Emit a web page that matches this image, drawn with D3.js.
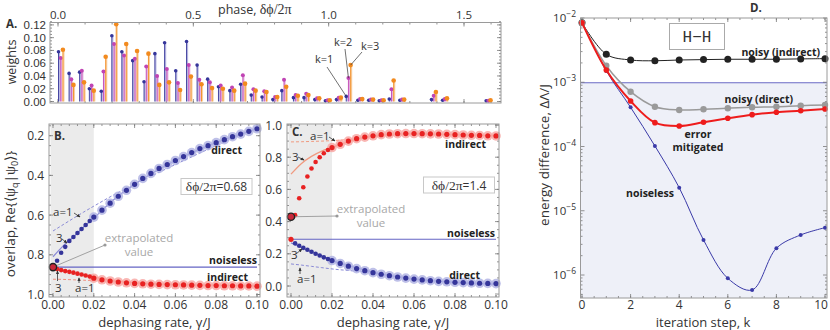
<!DOCTYPE html>
<html>
<head>
<meta charset="utf-8">
<script src="https://cdn.jsdelivr.net/npm/d3@7"></script>
<style>
  body { margin: 0; background: #fff; }
  svg { font-family: "Open Sans", "Noto Sans", sans-serif; }
</style>
</head>
<body>
<div id="chart"></div>
<script>
// ---------- panel A : weights of the phases for k = 1, 2, 3 ----------
var phases = [0.010,0.049,0.088,0.124,0.168,0.207,0.244,0.284,0.326,0.366,0.402,0.443,0.483,0.522,0.561,0.601,0.643,0.683,0.722,0.762,0.802,0.835,0.878,0.917,0.957,0.996,1.037,1.073,1.116,1.156,1.195,1.232,1.271,1.388,1.429,1.590];
var weightsK1 = [.078,.044,.046,.020,.016,.103,.078,.064,.031,.075,.092,.048,.094,.057,.035,.023,.017,.027,.010,.007,.003,.017,.006,.006,.003,.001,.003,.008,.002,.002,.001,.004,.002,.003,.002,.001];
var weightsK2 = [.068,.035,.048,.025,.047,.090,.072,.067,.055,.040,.051,.029,.057,.034,.030,.025,.022,.041,.019,.016,.007,.034,.010,.012,.005,.002,.006,.037,.004,.003,.002,.019,.003,.009,.004,.001];
var weightsK3 = [.081,.026,.030,.017,.070,.121,.090,.079,.075,.026,.030,.018,.039,.027,.021,.020,.017,.028,.017,.015,.007,.023,.009,.010,.005,.002,.006,.057,.004,.003,.002,.033,.003,.015,.005,.002];
var phaseTicks = [0, 0.5, 1.0, 1.5];
var weightTicks = [0, 0.02, 0.04, 0.06, 0.08, 0.10, 0.12];

// ---------- panels B, C : overlap vs dephasing rate ----------
var gammaSmall = [0.002,0.004,0.006,0.008,0.010,0.012,0.014,0.016,0.018];
var gammaLarge = [0.020,0.024,0.028,0.032,0.036,0.040,0.044,0.048,0.052,0.056,0.060,0.064,0.068,0.072,0.076,0.080,0.084,0.088,0.092,0.096,0.100];
var gammaFit = [0,0.005,0.01,0.015,0.02,0.03,0.04,0.06,0.08,0.1];
var gammaTicks = [0, 0.02, 0.04, 0.06, 0.08, 0.10];

var bDirectSmall = [0.83,0.79,0.76,0.73,0.71,0.69,0.67,0.65,0.63];
var bDirectLarge = [0.61,0.575,0.54,0.505,0.475,0.445,0.415,0.39,0.365,0.345,0.325,0.305,0.285,0.265,0.25,0.235,0.22,0.205,0.192,0.178,0.165];
var bIndirectSmall = [0.872,0.877,0.882,0.886,0.89,0.895,0.899,0.904,0.909];
var bIndirectLarge = [0.918,0.926,0.932,0.937,0.941,0.944,0.946,0.948,0.949,0.95,0.951,0.952,0.953,0.954,0.955,0.955,0.956,0.956,0.957,0.957,0.958];
var bDirectFit1 = [0.68,0.648,0.616,0.585,0.555,0.497,0.445,0.345,0.25,0.16];
var bDirectFit3 = [0.81,0.755,0.71,0.66,0.615,0.52,0.445,0.325,0.235,0.165];
var bIndirectFit1 = [0.923,0.924,0.926,0.928,0.93,0.935,0.941,0.948,0.953,0.957];
var bIndirectFit3 = [0.862,0.877,0.89,0.902,0.913,0.93,0.941,0.95,0.954,0.957];
var bNoiseless = 0.862, bExtrapolated = 0.862;
var bTicks = [0.2, 0.4, 0.6, 0.8, 1.0];

var cIndirectSmall = [0.44,0.545,0.613,0.68,0.73,0.77,0.80,0.825,0.845];
var cIndirectLarge = [0.86,0.88,0.90,0.915,0.925,0.933,0.94,0.944,0.946,0.947,0.947,0.946,0.945,0.944,0.942,0.94,0.938,0.936,0.935,0.933,0.932];
var cDirectSmall = [0.265,0.25,0.237,0.225,0.213,0.2,0.189,0.178,0.168];
var cDirectLarge = [0.158,0.14,0.123,0.108,0.095,0.083,0.073,0.064,0.056,0.049,0.043,0.038,0.033,0.029,0.026,0.023,0.021,0.019,0.017,0.016,0.015];
var cIndirectFit1 = [0.895,0.896,0.898,0.9,0.903,0.912,0.925,0.94,0.94,0.935];
var cIndirectFit3 = [0.695,0.76,0.805,0.838,0.86,0.905,0.932,0.946,0.94,0.932];
var cDirectFit1 = [0.137,0.13,0.122,0.114,0.106,0.094,0.083,0.045,0.022,0.008];
var cDirectFit3 = [0.268,0.24,0.213,0.185,0.158,0.12,0.085,0.043,0.023,0.013];
var cNoiseless = 0.29, cIndirectStart = 0.29, cExtrapolated = 0.43;
var cTicks = [0, 0.2, 0.4, 0.6, 0.8, 1.0];

// ---------- panel D : energy difference vs iteration step ----------
var kSteps = [0,1,2,3,4,5,6,7,8,9,10];
var dIndirect = [8.45e-3,2.72e-3,2.22e-3,2.16e-3,2.22e-3,2.25e-3,2.28e-3,2.28e-3,2.28e-3,2.31e-3,2.33e-3];
var dDirect = [8.45e-3,1.81e-3,7.13e-4,4.16e-4,3.70e-4,3.79e-4,3.94e-4,4.08e-4,4.16e-4,4.32e-4,4.43e-4];
var dMitigated = [8.45e-3,1.55e-3,5.11e-4,2.35e-4,2.08e-4,2.38e-4,2.75e-4,3.13e-4,3.41e-4,3.61e-4,3.84e-4];
var dNoiseless = [8.45e-3,1.50e-3,4.07e-4,1.02e-4,2.29e-5,3.51e-6,8.89e-7,5.85e-7,2.61e-6,4.2e-6,5.45e-6];
var dNoiselessLevel = 9.8e-4;
var kTicks = [0, 2, 4, 6, 8, 10];
var energyTicks = [1e-2, 1e-3, 1e-4, 1e-5, 1e-6];

(function(){
    var svg = d3.select("#chart").append("svg")
        .attr("width", 830).attr("height", 330);

    // colours
    var BLUE = "#35359a", BLUE_L = "#aeb0e2", MAG = "#c044b4", ORA = "#f28a1e";
    var RED = "#e82222", RED_L = "#f7a4a0", FRAME = "#9a9a9a", TXT = "#333";

    // arrow head for the annotations
    svg.append("defs").append("marker")
        .attr("id", "arr").attr("viewBox", "0 0 6 6").attr("refX", 5).attr("refY", 3)
        .attr("markerWidth", 5).attr("markerHeight", 5).attr("orient", "auto")
        .append("path").attr("d", "M0,0.5 L6,3 L0,5.5 Z").attr("fill", "#333");

    var Util = {
        frame: function(g, f) {
            g.append("rect").attr("x", f.x0).attr("y", f.y0)
                .attr("width", f.x1 - f.x0).attr("height", f.y1 - f.y0)
                .attr("fill", "none").attr("stroke", FRAME).attr("stroke-width", 1);
        },
        // ticks pointing inward on bottom and top
        xTicks: function(g, sc, f, vals, len) {
            g.append("g").selectAll("line").data(vals).enter().append("line")
                .attr("x1", sc).attr("x2", sc).attr("y1", f.y1).attr("y2", f.y1 - len)
                .attr("stroke", "#777").attr("stroke-width", 0.8);
            g.append("g").selectAll("line").data(vals).enter().append("line")
                .attr("x1", sc).attr("x2", sc).attr("y1", f.y0).attr("y2", f.y0 + len)
                .attr("stroke", "#777").attr("stroke-width", 0.8);
        },
        // ticks pointing inward on left and right
        yTicks: function(g, sc, f, vals, len) {
            g.append("g").selectAll("line").data(vals).enter().append("line")
                .attr("y1", sc).attr("y2", sc).attr("x1", f.x0).attr("x2", f.x0 + len)
                .attr("stroke", "#777").attr("stroke-width", 0.8);
            g.append("g").selectAll("line").data(vals).enter().append("line")
                .attr("y1", sc).attr("y2", sc).attr("x1", f.x1).attr("x2", f.x1 - len)
                .attr("stroke", "#777").attr("stroke-width", 0.8);
        },
        text: function(g, x, y, s, opt) {
            opt = opt || {};
            return g.append("text").attr("x", x).attr("y", y).text(s)
                .attr("font-size", opt.size || 12)
                .attr("font-weight", opt.bold ? "bold" : null)
                .attr("font-family", opt.font || null)
                .attr("text-anchor", opt.anchor || "start")
                .attr("fill", opt.fill || TXT);
        },
        arrow: function(g, x1, y1, x2, y2) {
            g.append("line").attr("x1", x1).attr("y1", y1).attr("x2", x2).attr("y2", y2)
                .attr("stroke", "#333").attr("stroke-width", 0.8).attr("marker-end", "url(#arr)");
        },
        pairs: function(xs, ys) {
            return xs.map(function(x, i){ return [x, ys[i]]; });
        }
    };

    // ================= panel A =================
    var PanelA = {
        f: {x0: 50, x1: 501, y0: 22.5, y1: 103},
        draw: function() {
            var f = this.f, g = svg.append("g");
            var x = d3.scaleLinear().domain([0, 1.5]).range([58, 464]);
            var y = d3.scaleLinear().domain([0, 0.12]).range([101.5, 24.9]);

            Util.xTicks(g, x, f, d3.range(0, 1.61, 0.1), 2);
            Util.xTicks(g, x, f, phaseTicks, 4);
            Util.yTicks(g, y, f, d3.range(0, 0.1251, 0.005), 2);
            Util.yTicks(g, y, f, weightTicks, 4);

            var series = [
                {vals: weightsK1, dark: BLUE, light: "#b8b8e2", off: -2.2, r: 1.8},
                {vals: weightsK2, dark: MAG, light: "#e4b0de", off: 0, r: 2.0},
                {vals: weightsK3, dark: ORA, light: "#f8cfa0", off: 2.2, r: 2.3}
            ];
            series.forEach(function(s){
                var sg = g.append("g");
                var d = Util.pairs(phases, s.vals);
                sg.selectAll(".lt").data(d).enter().append("line")
                    .attr("x1", function(p){ return x(p[0]) + s.off + 0.8; })
                    .attr("x2", function(p){ return x(p[0]) + s.off + 0.8; })
                    .attr("y1", y(0)).attr("y2", function(p){ return y(p[1]); })
                    .attr("stroke", s.light).attr("stroke-width", 1.6);
                sg.selectAll(".dk").data(d).enter().append("line")
                    .attr("x1", function(p){ return x(p[0]) + s.off; })
                    .attr("x2", function(p){ return x(p[0]) + s.off; })
                    .attr("y1", y(0)).attr("y2", function(p){ return y(p[1]); })
                    .attr("stroke", s.dark).attr("stroke-width", 0.9);
                sg.selectAll("circle").data(d).enter().append("circle")
                    .attr("cx", function(p){ return x(p[0]) + s.off; })
                    .attr("cy", function(p){ return y(p[1]); })
                    .attr("r", s.r).attr("fill", s.dark);
            });
            Util.frame(g, f);

            // tick labels
            phaseTicks.forEach(function(v){
                Util.text(g, x(v), 19, d3.format(".1f")(v), {anchor: "middle", size: 11.5});
            });
            weightTicks.forEach(function(v){
                Util.text(g, 46, y(v) + 4, d3.format(".2f")(v),
                    {anchor: "end", size: 11.5, font: "Liberation Sans"});
            });
            var t = Util.text(g, 218, 14, "phase,  ", {size: 12.5});
            t.append("tspan").attr("font-family", "Liberation Serif").attr("font-size", 14).text("δϕ/2π");
            Util.text(g, 0, 0, "weights", {anchor: "middle", size: 12.5})
                .attr("transform", "translate(16,62) rotate(-90)");
            Util.text(g, 6, 28, "A.", {bold: true, size: 11.5});

            // k labels pointing to the highlighted phase
            var p = phases[27];
            Util.text(g, 315, 63, "k=1", {size: 11});
            g.append("line").attr("x1", 327).attr("y1", 67).attr("x2", x(p) - 2.2).attr("y2", y(weightsK1[27]))
                .attr("stroke", "#333").attr("stroke-width", 0.7);
            Util.text(g, 334, 46, "k=2", {size: 11});
            g.append("line").attr("x1", 345).attr("y1", 49).attr("x2", x(p)).attr("y2", y(weightsK2[27]))
                .attr("stroke", "#333").attr("stroke-width", 0.7);
            Util.text(g, 361, 50, "k=3", {size: 11});
            g.append("line").attr("x1", 362).attr("y1", 52).attr("x2", x(p) + 2.2).attr("y2", y(weightsK3[27]))
                .attr("stroke", "#333").attr("stroke-width", 0.7);
        }
    };

    // ================= panels B and C =================
    var Overlap = {
        // draw one overlap panel
        draw: function(o) {
            var f = o.f, g = svg.append("g");
            var x = d3.scaleLinear().domain([0, 0.1]).range([f.x0 + 4, f.x1 - 3]);
            var y = d3.scaleLinear().domain(o.yDomain).range(o.yRange);

            // gray band up to gamma = 0.02
            g.append("rect").attr("x", f.x0 + 1.5).attr("y", f.y0 + 0.5)
                .attr("width", x(0.02) - f.x0 - 1.5).attr("height", f.y1 - f.y0 - 1)
                .attr("fill", "#ebebeb");

            Util.xTicks(g, x, f, d3.range(0, 0.1001, 0.004), 2);
            Util.xTicks(g, x, f, gammaTicks, 4);
            Util.yTicks(g, y, f, o.minor, 2);
            Util.yTicks(g, y, f, o.ticks, 4);

            var line = d3.line().x(function(d){ return x(d[0]); }).y(function(d){ return y(d[1]); })
                .curve(d3.curveMonotoneX);

            // noiseless level
            g.append("line").attr("x1", x(0)).attr("x2", x(0.1))
                .attr("y1", y(o.noiseless)).attr("y2", y(o.noiseless))
                .attr("stroke", "#6464c4").attr("stroke-width", 1.1);

            // fits a=1 (dashed) and a=3 (solid)
            o.series.forEach(function(s){
                g.append("path").datum(Util.pairs(gammaFit, s.fit1)).attr("d", line)
                    .attr("fill", "none").attr("stroke", s.fitColor).attr("stroke-width", 1)
                    .attr("stroke-dasharray", "3,2");
                g.append("path").datum(Util.pairs(gammaFit, s.fit3)).attr("d", line)
                    .attr("fill", "none").attr("stroke", s.fitColor).attr("stroke-width", 1.3);
            });

            // data points
            o.series.forEach(function(s){
                var big = Util.pairs(gammaLarge, s.large);
                var small = Util.pairs(gammaSmall, s.small);
                g.append("g").selectAll("circle").data(big).enter().append("circle")
                    .attr("cx", function(d){ return x(d[0]); }).attr("cy", function(d){ return y(d[1]); })
                    .attr("r", 4.8).attr("fill", s.light).attr("opacity", 0.8);
                g.append("g").selectAll("circle").data(big).enter().append("circle")
                    .attr("cx", function(d){ return x(d[0]); }).attr("cy", function(d){ return y(d[1]); })
                    .attr("r", 2.6).attr("fill", s.color);
                g.append("g").selectAll("circle").data(small).enter().append("circle")
                    .attr("cx", function(d){ return x(d[0]); }).attr("cy", function(d){ return y(d[1]); })
                    .attr("r", 2.3).attr("fill", s.color);
            });
            if (o.startDot !== undefined) {
                g.append("circle").attr("cx", x(0)).attr("cy", y(o.startDot)).attr("r", 2.6).attr("fill", RED);
            }

            // extrapolated value marker and pointer
            var ex = x(0), ey = y(o.extrapolated);
            g.append("line").attr("x1", ex).attr("y1", ey).attr("x2", o.lbl[0]).attr("y2", o.lbl[1])
                .attr("stroke", "#999").attr("stroke-width", 0.9);
            g.append("circle").attr("cx", o.lbl[0]).attr("cy", o.lbl[1]).attr("r", 1.6).attr("fill", "#999");
            g.append("circle").attr("cx", ex).attr("cy", ey).attr("r", 3.6)
                .attr("fill", "#c8283a").attr("stroke", "#222").attr("stroke-width", 1.4);
            Util.text(g, o.lbl[0] + 34, o.lbl[1] - 3, "extrapolated", {anchor: "middle", size: 11.5, fill: "#a8a8a8"});
            Util.text(g, o.lbl[0] + 34, o.lbl[1] + 11, "value", {anchor: "middle", size: 11.5, fill: "#a8a8a8"});

            Util.frame(g, f);

            // axis labels
            gammaTicks.forEach(function(v){
                Util.text(g, x(v), 309, d3.format(".2f")(v), {anchor: "middle", size: 12});
            });
            o.ticks.forEach(function(v){
                Util.text(g, f.x0 - 5, y(v) + 4.5, d3.format(".1f")(v), {anchor: "end", size: 12});
            });
            Util.text(g, (f.x0 + f.x1) / 2, 327, "dephasing rate,  γ/J", {anchor: "middle", size: 13});
            if (o.yLabel) {
                var yl = Util.text(g, 0, 0, "overlap,  Re{⟨", {anchor: "middle", size: 13.5})
                    .attr("transform", "translate(15,214) rotate(-90)");
                yl.append("tspan").attr("font-family", "Liberation Serif").attr("font-size", 14.5).text("ψ");
                yl.append("tspan").attr("font-size", 9).attr("dy", 3).text("q");
                yl.append("tspan").attr("dy", -3).text("|");
                yl.append("tspan").attr("font-family", "Liberation Serif").attr("font-size", 14.5).text("ψ");
                yl.append("tspan").attr("font-size", 9).attr("dy", 3).text("0");
                yl.append("tspan").attr("dy", -3).text("⟩}");
            }

            // labels in the plot
            Util.text(g, f.x0 + 5, o.letterY, o.letter, {bold: true, size: 11.5});
            o.labels.forEach(function(l){
                Util.text(g, l[0], l[1], l[2], {bold: true, size: 10.5, anchor: "end", fill: "#222"});
            });
            // phase box
            var bx = o.box;
            g.append("rect").attr("x", bx[0]).attr("y", bx[1]).attr("width", bx[2]).attr("height", 16)
                .attr("fill", "#fff").attr("stroke", "#c8c8c8").attr("stroke-width", 1);
            var t = Util.text(g, bx[0] + bx[2] / 2, bx[1] + 12.5, "", {anchor: "middle", size: 12});
            t.append("tspan").attr("font-family", "Liberation Serif").attr("font-size", 13.5).text("δϕ/2π");
            t.append("tspan").text("=" + o.phase);

            // fit annotations
            o.notes.forEach(function(n){
                Util.text(g, n[0], n[1], n[2], {size: 11.5});
                Util.arrow(g, n[3], n[4], n[5], n[6]);
            });
        }
    };

    // ================= panel D =================
    var PanelD = {
        f: {x0: 580.5, x1: 827, y0: 18, y1: 298},
        draw: function() {
            var f = this.f, g = svg.append("g");
            var x = d3.scaleLinear().domain([0, 10]).range([582, 825]);
            var y = d3.scaleLog().domain([1e-2, 1e-6]).range([18, 275]);

            // shaded region below the noiseless level
            g.append("rect").attr("x", f.x0).attr("y", y(dNoiselessLevel))
                .attr("width", f.x1 - f.x0).attr("height", f.y1 - y(dNoiselessLevel))
                .attr("fill", "#eef0f8");
            g.append("line").attr("x1", f.x0).attr("x2", f.x1)
                .attr("y1", y(dNoiselessLevel)).attr("y2", y(dNoiselessLevel))
                .attr("stroke", "#6a6ac4").attr("stroke-width", 1.1);

            var minor = [];
            [1e-7, 1e-6, 1e-5, 1e-4, 1e-3, 1e-2].forEach(function(dec){
                for (var m = 2; m < 10; m++) {
                    var v = dec * m;
                    if (y(v) > f.y0 && y(v) < f.y1) minor.push(v);
                }
            });
            Util.yTicks(g, y, f, minor, 2);
            Util.yTicks(g, y, f, energyTicks, 4);
            Util.xTicks(g, x, f, d3.range(0, 10.01, 0.5), 2);
            Util.xTicks(g, x, f, kTicks, 4);

            var line = d3.line().x(function(d){ return x(d[0]); }).y(function(d){ return y(d[1]); })
                .curve(d3.curveCatmullRom.alpha(0.5));

            var series = [
                {vals: dNoiseless, color: "#3a3aa8", w: 1, r: 2},
                {vals: dIndirect, color: "#222", w: 1, r: 3.5},
                {vals: dDirect, color: "#9a9a9a", w: 1.5, r: 3.2},
                {vals: dMitigated, color: "#ee1c1c", w: 2, r: 2.8}
            ];
            series.forEach(function(s){
                var d = Util.pairs(kSteps, s.vals);
                g.append("path").datum(d).attr("d", line)
                    .attr("fill", "none").attr("stroke", s.color).attr("stroke-width", s.w);
                g.append("g").selectAll("circle").data(d).enter().append("circle")
                    .attr("cx", function(p){ return x(p[0]); }).attr("cy", function(p){ return y(p[1]); })
                    .attr("r", s.r).attr("fill", s.color);
            });
            Util.frame(g, f);

            // tick labels
            kTicks.forEach(function(v){
                Util.text(g, Math.min(x(v), 821), 309, v, {anchor: "middle", size: 12});
            });
            energyTicks.forEach(function(v){
                var t = Util.text(g, 576, y(v) + 4, "10", {anchor: "end", size: 11.5});
                t.append("tspan").attr("dy", -5).attr("font-size", 8.5).text("−" + Math.round(-Math.log10(v)));
            });
            Util.text(g, 703, 327, "iteration step,  k", {anchor: "middle", size: 13});
            Util.text(g, 0, 0, "energy difference,  ΔΛ/J", {anchor: "middle", size: 13.5})
                .attr("transform", "translate(549,155) rotate(-90)");
            Util.text(g, 750, 12, "D.", {bold: true, size: 11.5});

            // H-H box
            g.append("rect").attr("x", 669.5).attr("y", 23.5).attr("width", 55).attr("height", 26)
                .attr("fill", "#fff").attr("stroke", "#aaa").attr("stroke-width", 1);
            g.append("text").attr("x", 697).attr("y", 42).attr("text-anchor", "middle")
                .attr("font-family", "Liberation Mono").attr("font-size", 16).attr("fill", "#333")
                .text("H−H");

            // series labels
            Util.text(g, 820, 56, "noisy (indirect)", {bold: true, size: 10.5, anchor: "end", fill: "#222"});
            Util.text(g, 793, 103, "noisy (direct)", {bold: true, size: 10.5, anchor: "end", fill: "#222"});
            Util.text(g, 698, 138, "error", {bold: true, size: 10.5, anchor: "middle", fill: "#222"});
            Util.text(g, 698, 151, "mitigated", {bold: true, size: 10.5, anchor: "middle", fill: "#222"});
            Util.text(g, 650, 197, "noiseless", {bold: true, size: 10.5, anchor: "middle", fill: "#222"});
        }
    };

    var App = {
        init: function() {
            PanelA.draw();
            Overlap.draw({
                f: {x0: 49, x1: 260, y0: 124, y1: 297},
                yDomain: [0.2, 1.0], yRange: [135.7, 294.5],
                ticks: bTicks, minor: d3.range(0.15, 1.001, 0.05),
                noiseless: bNoiseless, extrapolated: bExtrapolated,
                lbl: [105, 245], yLabel: true,
                series: [
                    {large: bDirectLarge, small: bDirectSmall, fit1: bDirectFit1, fit3: bDirectFit3,
                     color: BLUE, light: BLUE_L, fitColor: "#8a8ad6"},
                    {large: bIndirectLarge, small: bIndirectSmall, fit1: bIndirectFit1, fit3: bIndirectFit3,
                     color: RED, light: RED_L, fitColor: "#f09080"}
                ],
                letter: "B.", letterY: 140,
                labels: [[242, 154, "direct"], [257, 264, "noiseless"], [248, 281, "indirect"]],
                box: [181, 178.5, 71], phase: "0.68",
                notes: [
                    [53, 216, "a=1", 74, 213, 80, 217],
                    [56, 242, "3", 62, 239, 67, 243],
                    [55, 292, "3", 57.5, 281, 57.5, 271],
                    [75, 292, "a=1", 79, 283, 79, 278]
                ]
            });
            Overlap.draw({
                f: {x0: 287, x1: 499, y0: 124, y1: 297},
                yDomain: [0, 1.0], yRange: [286, 125],
                ticks: cTicks, minor: d3.range(-0.05, 1.03, 0.05),
                noiseless: cNoiseless, extrapolated: cExtrapolated, startDot: cIndirectStart,
                lbl: [337, 216],
                series: [
                    {large: cIndirectLarge, small: cIndirectSmall, fit1: cIndirectFit1, fit3: cIndirectFit3,
                     color: RED, light: RED_L, fitColor: "#f09a80"},
                    {large: cDirectLarge, small: cDirectSmall, fit1: cDirectFit1, fit3: cDirectFit3,
                     color: BLUE, light: BLUE_L, fitColor: "#8a8ad6"}
                ],
                letter: "C.", letterY: 136,
                labels: [[486, 148, "indirect"], [495, 237, "noiseless"], [480, 279, "direct"]],
                box: [423.5, 177, 71], phase: "1.4",
                notes: [
                    [310, 140, "a=1", 329, 137, 335, 141],
                    [292, 161, "3", 298, 157, 304, 160],
                    [291, 259, "3", 296, 254, 302, 249],
                    [297, 283, "a=1", 300, 274, 300, 268]
                ]
            });
            PanelD.draw();
        }
    };
    App.init();
})();
</script>
</body>
</html>
